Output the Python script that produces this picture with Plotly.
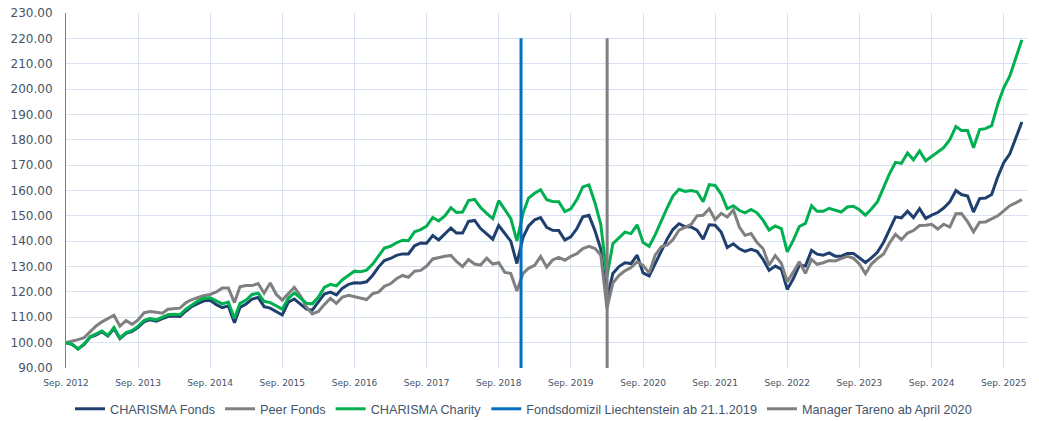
import pandas as pd
import plotly.graph_objects as go

# Monthly values (month-end), Sep 2012 .. Dec 2025
charisma_fonds = [
    100, 99.3, 97.5, 99.3, 102.2, 103.0, 104.3, 102.6, 105.5, 101.6, 103.7, 104.4,
    106, 108.3, 109, 108.5, 109.5, 110.3, 110.5, 110.3, 112.5, 114.3, 115.5, 116.5,
    116.7, 115, 113.8, 114.5, 107.8, 113.9, 115.2, 117.2, 117.8, 114.2, 113.6, 112.3,
    110.9, 116, 117.2, 115.2, 113.2, 112.8, 116, 119.2, 119.9, 118.8, 121.5, 123,
    123.6, 123.5, 124, 126.6, 130, 132.4, 133.2, 134.4, 135, 135, 138.2, 139.3,
    139.2, 142.2, 140.5, 142.8, 145.2, 143.2, 143.2, 147.8, 148.2, 145, 143, 140.8,
    146.2, 143.2, 140, 131.2, 141.5, 146, 148.4, 149.3, 145.5, 144.3, 144.2, 140.5,
    141.7, 145, 149.6, 150.2, 144, 136.8, 117, 127.3, 130, 131.5, 131.2, 134.5,
    127.5, 126.3, 131, 136.5, 141, 144.6, 146.9, 145.8, 145.6, 144.4, 140.8, 146.5,
    146.3, 143.5, 137.5, 139, 137, 136, 136.8, 136, 132.8, 128.5, 130.2, 129,
    121, 125.3, 130.5, 130.2, 136.4, 134.9, 134.5, 135.4, 134.1, 134.1, 135.2, 135.2,
    133.4, 131.6, 133.4, 135.7, 139.6, 144.7, 149.6, 149.2, 151.8, 149.3, 152.8, 149,
    150.3, 151.3, 153.1, 155.5, 160, 158.4, 157.8, 151.5, 156.8, 157, 158.4, 165.4,
    171, 174.5, 181, 187,
]

peer_fonds = [
    100, 100.5, 101.2, 102, 104.5, 106.5, 108.2, 109.5, 110.8, 106.5, 108.7, 107.2,
    109, 111.8, 112.3, 112, 111.6, 113.2, 113.5, 113.6, 115.8, 117, 117.8, 118.6,
    119, 120, 121.5, 121.5, 115.8, 122, 122.5, 122.5, 123.3, 119.5, 123.5, 119,
    116.8, 119.5, 121.8, 118.5, 114, 111.3, 112.3, 115, 117.5, 115.5, 118, 118.7,
    118.2, 117.5, 117, 119.3, 120, 122.2, 123.2, 125.2, 126.5, 125.8, 128.2, 128.5,
    130.2, 133, 133.6, 134.1, 134.4, 132, 130, 132.8, 131, 130.6, 133.3, 131,
    131.5, 127.7, 127.3, 120.4, 127.3, 129.3, 130.5, 134, 129.8, 132.6, 133.6, 132.5,
    134, 135.1, 137.1, 138, 137.1, 134.5, 113.5, 123.5, 126.5, 128.3, 129.6, 131.9,
    130.5, 127.5, 134.5, 137.8, 138.5, 140.6, 144.4, 145.5, 146.6, 150, 150.2, 152.8,
    148.5, 151, 149.5, 152.3, 145.5, 142.3, 143, 139.5, 137, 130.5, 134.3, 131.3,
    124, 127.9, 131.9, 127.3, 132.8, 130.9, 131.5, 132.4, 132.2, 133.1, 134, 133.3,
    131, 127.2, 131, 133.2, 135, 139.2, 142.7, 140.6, 143.2, 144.2, 146.2, 146.3,
    146.7, 144.8, 146.7, 145.6, 150.8, 150.9, 147.7, 143.7, 147.5, 147.6, 148.8, 150,
    152, 154, 155.1, 156.4,
]

charisma_charity = [
    100, 99.3, 97.5, 99.5, 102.3, 103.3, 104.6, 102.8, 106, 101.8, 104, 104.8,
    106.5, 108.8, 109.5, 109, 110, 111, 111.2, 111, 113.3, 115, 116.5, 117.5,
    117.7, 116.5, 115.3, 116, 109.5, 115.5, 116.8, 119, 119.5, 116.3, 115.8, 114.5,
    113.2, 117.5, 119.6, 117.6, 115.5, 115.3, 118, 121.8, 123, 122.4, 124.8, 126.6,
    128.2, 128, 128.6, 131, 134.3, 137.3, 138, 139.4, 140.4, 140.2, 143.7, 144.6,
    146, 149.4, 148, 150, 153.2, 151.3, 151.5, 156, 156.5, 153.3, 151, 148.9,
    156, 152.3, 149, 140.1, 151, 157, 158.9, 160.3, 156.4, 155.7, 155.6, 151.7,
    152.8, 156.4, 161.4, 162.2, 155, 146.5, 126, 139, 141.5, 143.6, 143, 146.5,
    139.5, 138, 142.5, 148.2, 153.3, 157.8, 160.5, 159.6, 160, 159.5, 155.6, 162.3,
    162, 158.5, 152.8, 154, 152.1, 151.2, 152.5, 151.2, 148.2, 144.4, 146, 145,
    135.8, 140.4, 145.8, 147, 154, 151.8, 151.8, 153, 152.2, 151.5, 153.5, 153.8,
    152.4, 150.3, 152.7, 155.6, 161.2, 166.5, 171.1, 170.7, 174.8, 172.1, 175.6, 171.7,
    173.4, 175, 176.9, 180, 185.2, 183.7, 183.7, 176.9, 184, 184.4, 185.6, 194,
    200.5, 205.2, 212.3, 219.4,
]

start_month = "2012-09-30"
tick_years = list(range(2012, 2026))
tick_labels = [f"Sep. {y}" for y in tick_years]

event_names = ["Fondsdomizil Liechtenstein ab 21.1.2019", "Manager Tareno ab April 2020"]
event_dates = ["2019-01-21", "2020-04-01"]
event_y = [90, 220]

try:
    dates = pd.date_range(start_month, periods=len(charisma_fonds), freq="ME")
except Exception:
    dates = pd.date_range(start_month, periods=len(charisma_fonds), freq="M")

tick_vals = [f"{y}-09-30" for y in tick_years]

C_FONDS = "#1F3F6F"
C_PEER = "#808080"
C_CHARITY = "#00B050"
C_DOMIZIL = "#0070C0"
C_MANAGER = "#7F7F7F"
LW = 3

fig = go.Figure()
fig.add_trace(go.Scatter(x=dates, y=charisma_fonds, mode="lines", name="CHARISMA Fonds",
                         line=dict(color=C_FONDS, width=LW)))
fig.add_trace(go.Scatter(x=dates, y=peer_fonds, mode="lines", name="Peer Fonds",
                         line=dict(color=C_PEER, width=LW)))
fig.add_trace(go.Scatter(x=dates, y=charisma_charity, mode="lines", name="CHARISMA Charity",
                         line=dict(color=C_CHARITY, width=LW)))
for name, d, col in zip(event_names, event_dates, [C_DOMIZIL, C_MANAGER]):
    fig.add_trace(go.Scatter(x=[d, d], y=event_y, mode="lines", name=name,
                             line=dict(color=col, width=LW)))

GRID = "#D9E2F0"
TXT = "#44546A"
# the page body has an 8px default margin, so the figure is sized to fit the window
W, H = 1031, 413
fig.update_layout(
    width=W, height=H,
    margin=dict(l=58, r=11, t=5, b=53, autoexpand=False),
    paper_bgcolor="white", plot_bgcolor="white",
    font=dict(family="Liberation Sans, Arial, sans-serif", color=TXT),
    showlegend=True,
    legend=dict(orientation="h", xref="container", yref="container",
                x=0.5, xanchor="center", y=0.029, yanchor="middle",
                font=dict(size=12.7, color=TXT), traceorder="normal",
                itemwidth=30, tracegroupgap=0),
    xaxis=dict(type="date", range=[start_month, "2026-01-31"],
               tickmode="array", tickvals=tick_vals, ticktext=tick_labels,
               tickfont=dict(size=9, color=TXT, family="DejaVu Sans"),
               showgrid=True, gridcolor=GRID, automargin=False,
               gridwidth=1, showline=False, zeroline=False, ticks="",
               ticklabelstandoff=8, ticklabeloverflow="allow"),
    yaxis=dict(range=[90, 230], dtick=10, tick0=90, tickformat=".2f",
               tickfont=dict(size=12, color=TXT, family="DejaVu Sans"),
               showgrid=True, gridcolor=GRID, automargin=False,
               gridwidth=1, showline=True, linecolor="#808080", linewidth=1,
               zeroline=False, ticks="", ticklabelstandoff=10,
               ticklabeloverflow="allow"),
)

fig.write_html("out.html")
